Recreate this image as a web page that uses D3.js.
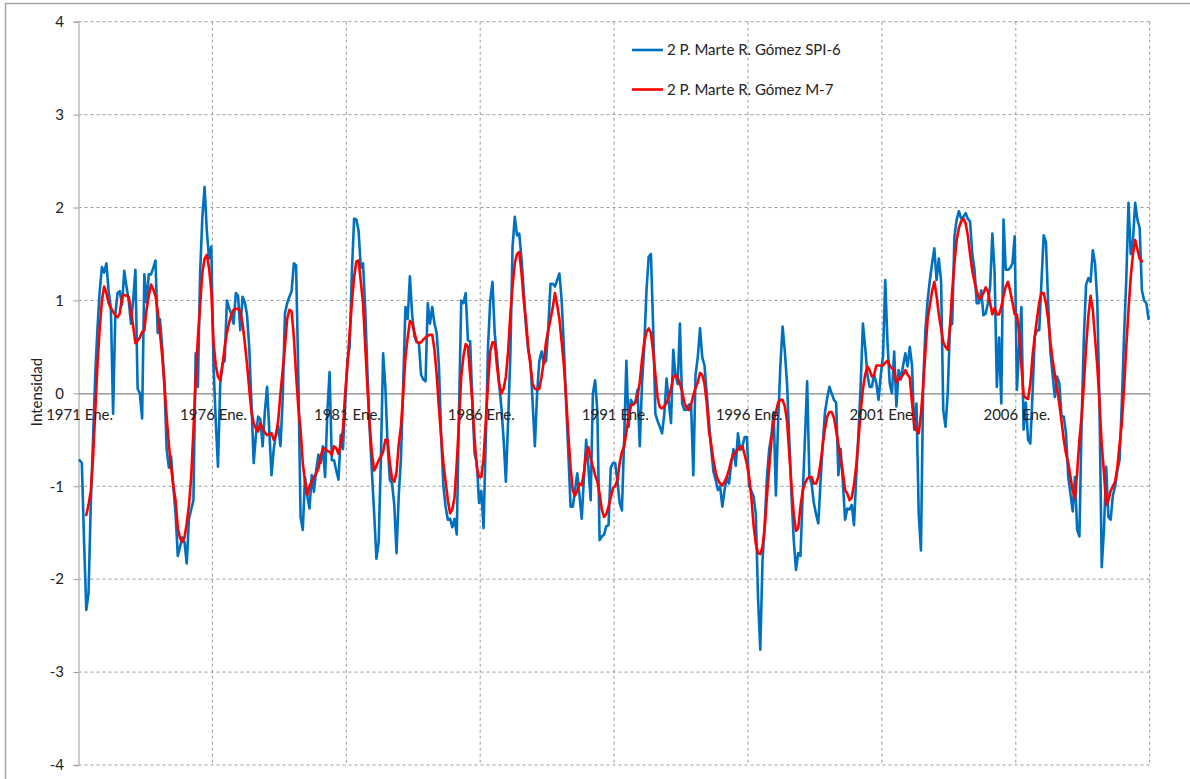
<!DOCTYPE html>
<html>
<head>
<meta charset="utf-8">
<script src="https://cdn.jsdelivr.net/npm/d3@7"></script>
<style>
  html, body { margin: 0; padding: 0; background: #ffffff; }
  svg { display: block; font-family: Lato, "Open Sans", "DejaVu Sans", sans-serif; }
</style>
</head>
<body>
<svg id="chart" width="1190" height="779"></svg>
<script>
// Monthly SPI-6 index, station 2 P. Marte R. Gómez, January of each 5-year period onward
const spi6_1971 = [-0.72,-0.75,-1.6,-2.33,-2.15,-1.2,-0.5,0.2,0.7,1.1, 1.36,1.30,1.40,1.10,0.92,-0.22,0.85,1.08,1.10,0.95, 1.32,1.15,1.0,0.75,1.0,1.33,0.05,0.0,-0.27,1.28, 0.98,1.28,1.28,1.35,1.43,0.65,0.8,0.5,0.1,-0.6, -0.8,-0.68,-1.0,-1.3,-1.75,-1.65,-1.55,-1.6,-1.83,-1.35, -1.25,-1.15,0.43,0.07,1.3,1.9,2.22,1.75,1.45,1.58];
const spi6_1976 = [0.3,-0.3,-0.79,0.1,0.32,0.35,1.0,0.92,0.85,0.75, 1.08,1.05,0.68,1.04,0.98,0.85,0.5,-0.1,-0.75,-0.45, -0.25,-0.28,-0.57,-0.2,0.07,-0.4,-0.88,-0.6,-0.43,-0.35, -0.57,-0.05,0.86,0.97,1.04,1.1,1.4,1.38,0.2,-1.33, -1.47,-0.9,-1.1,-1.24,-0.88,-1.06,-0.83,-0.66,-0.75,-0.57, -0.9,-0.2,0.23,-0.72,-0.72,-0.83,-0.93,-0.45,-0.6,-0.1];
const spi6_1981 = [0.35,0.5,1.3,1.88,1.87,1.75,1.35,1.4,0.9,0.2, -0.4,-0.85,-1.3,-1.78,-1.6,-0.7,0.43,0.07,-0.55,-0.93, -0.97,-1.2,-1.72,-1.1,-0.7,0.1,0.93,0.8,1.26,0.85, 0.62,0.55,0.55,0.2,0.15,0.13,0.97,0.75,0.93,0.75, 0.65,0.3,-0.45,-1.0,-1.22,-1.36,-1.35,-1.44,-1.35,-1.52, -0.2,1.0,0.97,1.08,0.57,0.56,-0.1,-0.65,-0.75,-1.18];
const spi6_1986 = [-1.05,-1.45,-0.5,0.5,1.0,1.2,0.65,0.4,0.1,-0.15, -0.5,-0.95,-0.3,0.4,1.58,1.9,1.7,1.72,1.45,1.1, 0.72,0.47,0.35,-0.1,-0.57,0.0,0.35,0.45,0.32,0.35, 0.7,1.18,1.18,1.15,1.22,1.29,1.0,0.5,-0.1,-0.65, -1.22,-1.22,-1.04,-0.86,-1.1,-1.35,-0.9,-0.5,-0.8,-1.15, 0.0,0.14,-0.2,-1.58,-1.54,-1.52,-1.43,-1.42,-0.8,-0.75];
const spi6_1991 = [-0.75,-0.95,-1.18,-1.26,-0.5,0.35,-0.36,-0.07,-0.11,-0.1, 0.04,-0.57,0.1,0.5,1.1,1.47,1.5,0.72,-0.22,-0.3, -0.36,-0.43,-0.22,0.16,-0.1,-0.32,0.47,0.2,0.1,0.75, -0.11,-0.18,-0.18,-0.12,-0.12,-0.88,0.2,0.39,0.7,0.39, 0.3,0.0,-0.3,-0.6,-0.84,-0.93,-1.04,-1.0,-1.22,-1.04, -0.9,-0.97,-0.75,-0.6,-0.78,-0.43,-0.61,-0.57,-0.47,-0.47];
const spi6_1996 = [-1.0,-1.05,-1.11,-1.3,-2.2,-2.76,-1.8,-1.4,-0.9,-0.6, -0.45,-0.2,-1.1,-0.3,0.3,0.72,0.45,0.1,-0.5,-1.1, -1.58,-1.9,-1.72,-1.75,-1.1,-0.5,0.13,-0.9,-0.97,-1.18, -1.3,-1.4,-0.95,-0.55,-0.2,-0.05,0.07,0.0,-0.07,-0.1, -0.88,-0.6,-0.95,-1.36,-1.24,-1.25,-1.2,-1.42,-0.9,-0.43, 0.1,0.75,0.5,0.2,0.07,0.07,0.2,0.11,-0.07,0.2];
const spi6_2001 = [0.4,1.22,0.55,0.11,0.0,0.45,-0.14,0.25,0.15,0.3, 0.43,0.29,0.5,0.3,-0.39,-0.11,-1.3,-1.69,0.11,0.68, 1.0,1.22,1.4,1.56,1.22,1.45,1.22,-0.18,-0.36,0.0, 0.72,0.75,1.69,1.87,1.96,1.88,1.9,1.94,1.88,1.85, 1.5,1.33,0.97,0.97,1.11,0.84,0.86,0.97,1.15,1.72, 1.3,0.07,0.6,-0.11,1.87,1.33,1.33,1.35,1.4,1.69];
const spi6_2006 = [0.04,0.5,0.93,-0.39,-0.1,-0.5,-0.54,0.0,0.61,0.68, 0.68,1.2,1.7,1.63,0.97,0.45,0.2,-0.04,0.18,0.11, -0.25,-0.25,-0.43,-0.9,-1.08,-1.27,-0.9,-1.47,-1.54,-0.3, 0.6,1.17,1.24,1.2,1.54,1.4,1.0,-0.11,-1.87,-1.47, -0.79,-1.33,-1.36,-1.1,-1.0,-0.83,-0.72,-0.11,0.61,1.22, 2.05,1.5,1.65,2.05,1.87,1.78,1.11,1.0,0.97,0.8];

// 7-month centred moving average (M-7); undefined for the first and last three months
const m7_1971 = [null,null,null,-1.31,-1.2,-1.05,-0.7,-0.2,0.3,0.7, 1.0,1.15,1.08,0.97,0.92,0.88,0.84,0.82,0.86,1.04, 1.06,1.05,1.04,0.9,0.72,0.54,0.57,0.6,0.66,0.68, 0.9,1.05,1.17,1.12,1.05,0.88,0.65,0.4,0.1,-0.25, -0.55,-0.8,-1.0,-1.15,-1.45,-1.56,-1.6,-1.55,-1.4,-1.2, -0.9,-0.4,0.15,0.6,0.95,1.3,1.45,1.49,1.35,1.1];
const m7_1976 = [0.55,0.3,0.18,0.14,0.3,0.5,0.65,0.76,0.85,0.9, 0.91,0.91,0.88,0.75,0.55,0.32,0.05,-0.2,-0.32,-0.38, -0.41,-0.32,-0.38,-0.42,-0.45,-0.44,-0.43,-0.5,-0.45,-0.29, 0.0,0.25,0.5,0.8,0.9,0.88,0.61,0.2,-0.15,-0.39, -0.75,-0.95,-1.09,-1.0,-0.95,-0.9,-0.86,-0.81,-0.68,-0.6, -0.59,-0.62,-0.63,-0.66,-0.57,-0.59,-0.65,-0.55,-0.39,0.0];
const m7_1981 = [0.3,0.65,0.97,1.25,1.42,1.43,1.2,0.97,0.5,0.05, -0.35,-0.65,-0.83,-0.78,-0.72,-0.68,-0.63,-0.5,-0.5,-0.75, -0.92,-0.95,-0.85,-0.55,-0.35,0.0,0.39,0.6,0.78,0.75, 0.66,0.56,0.54,0.55,0.58,0.6,0.62,0.63,0.63,0.47, 0.2,-0.15,-0.47,-0.75,-0.95,-1.15,-1.29,-1.25,-1.12,-0.75, -0.3,0.18,0.4,0.53,0.5,0.2,-0.1,-0.5,-0.8,-0.9];
const m7_1986 = [-0.9,-0.7,-0.3,0.1,0.45,0.55,0.55,0.3,0.1,0.0, 0.05,0.18,0.45,0.85,1.15,1.4,1.5,1.52,1.3,1.0, 0.79,0.5,0.3,0.1,0.05,0.04,0.05,0.18,0.35,0.55, 0.68,0.8,0.92,1.08,0.95,0.8,0.55,0.3,-0.05,-0.45, -0.8,-1.05,-1.1,-1.05,-0.97,-0.99,-0.85,-0.65,-0.58,-0.7, -0.79,-0.88,-0.95,-1.08,-1.25,-1.33,-1.3,-1.22,-1.12,-1.02];
const m7_1991 = [-1.0,-0.93,-0.75,-0.63,-0.57,-0.42,-0.25,-0.13,-0.12,-0.1, -0.03,0.12,0.36,0.55,0.66,0.7,0.65,0.45,0.2,-0.05, -0.15,-0.16,-0.14,-0.1,-0.04,0.05,0.17,0.2,0.17,0.1, 0.02,-0.1,-0.16,-0.18,-0.12,-0.02,0.06,0.12,0.22,0.2, 0.1,-0.1,-0.4,-0.55,-0.72,-0.85,-0.93,-0.97,-0.99,-0.95, -0.9,-0.82,-0.72,-0.66,-0.63,-0.6,-0.58,-0.57,-0.66,-0.76];
const m7_1996 = [-0.9,-1.12,-1.42,-1.62,-1.72,-1.73,-1.65,-1.45,-1.1,-0.8, -0.5,-0.3,-0.2,-0.1,-0.07,-0.07,-0.14,-0.3,-0.65,-1.0, -1.3,-1.48,-1.45,-1.22,-1.05,-0.97,-0.92,-0.9,-0.9,-0.97, -0.97,-0.9,-0.75,-0.55,-0.38,-0.25,-0.2,-0.2,-0.26,-0.4, -0.55,-0.7,-0.85,-1.04,-1.08,-1.15,-1.12,-0.98,-0.78,-0.5, -0.2,0.05,0.2,0.29,0.25,0.18,0.2,0.3,0.3,0.3];
const m7_2001 = [0.3,0.33,0.35,0.3,0.27,0.25,0.12,0.15,0.17,0.2, 0.25,0.2,0.17,-0.1,-0.35,-0.4,-0.43,-0.22,0.08,0.45, 0.8,0.95,1.1,1.2,1.05,0.85,0.7,0.55,0.5,0.47, 0.72,1.1,1.4,1.65,1.78,1.85,1.88,1.83,1.7,1.5, 1.32,1.2,1.1,1.02,1.03,1.08,1.14,1.1,0.97,0.85, 0.92,0.85,0.85,0.93,1.05,1.15,1.2,1.1,0.98,0.85];
const m7_2006 = [0.85,0.65,0.3,-0.02,-0.05,-0.06,0.1,0.4,0.62,0.8, 0.98,1.08,1.08,0.97,0.8,0.55,0.36,0.2,0.05,-0.11, -0.3,-0.5,-0.65,-0.75,-0.9,-1.05,-1.13,-0.85,-0.5,-0.25, 0.1,0.5,0.83,1.05,0.9,0.6,0.3,-0.1,-0.55,-0.85, -1.2,-1.15,-1.05,-1.0,-0.95,-0.8,-0.55,-0.32,0.05,0.5, 0.9,1.25,1.5,1.65,1.55,1.45,1.42,null,null,null];

// Axis text
const xTickLabels = ["1971 Ene.", "1976 Ene.", "1981 Ene.", "1986 Ene.", "1991 Ene.", "1996 Ene.", "2001 Ene.", "2006 Ene."];
const yTicks = [-4, -3, -2, -1, 0, 1, 2, 3, 4];
const seriesNames = ["2 P. Marte R. Gómez SPI-6", "2 P. Marte R. Gómez M-7"];
const seriesColors = ["#0070C0", "#FF0000"];
const yTitle = "Intensidad";

const spi6 = [].concat(spi6_1971, spi6_1976, spi6_1981, spi6_1986, spi6_1991, spi6_1996, spi6_2001, spi6_2006);
const m7 = [].concat(m7_1971, m7_1976, m7_1981, m7_1986, m7_1991, m7_1996, m7_2001, m7_2006);
const months = d3.range(spi6.length);
const monthsPerLabel = 60;
const tickMonths = xTickLabels.map((_, k) => k * monthsPerLabel);

const svg = d3.select("#chart");
const plot = { left: 78.5, right: 1149.7, top: 21.7, bottom: 765 };

const x = d3.scaleBand().domain(months).range([plot.left, plot.right]).padding(0);
const y = d3.scaleLinear().domain([-4, 4]).range([plot.bottom, plot.top]);
const cx = i => x(i) + x.bandwidth() / 2;

svg.append("rect").attr("x", 0).attr("y", 0).attr("width", 1190).attr("height", 779).attr("fill", "#ffffff");
// chart frame
svg.append("rect")
  .attr("x", 5.5).attr("y", 3.5).attr("width", 1400).attr("height", 1000)
  .attr("fill", "none").attr("stroke", "#a6a6a6").attr("stroke-width", 1.5);

// horizontal gridlines
svg.append("g").selectAll("line")
  .data(yTicks.filter(v => v !== 0))
  .join("line")
  .attr("x1", plot.left).attr("x2", plot.right)
  .attr("y1", d => y(d)).attr("y2", d => y(d))
  .attr("stroke", "#9a9a9a").attr("stroke-width", 1).attr("stroke-dasharray", "3,3");

// vertical gridlines at each period boundary and at the right edge
const vGrid = tickMonths.slice(1).map(i => x(i)).concat([plot.right]);
svg.append("g").selectAll("line")
  .data(vGrid)
  .join("line")
  .attr("x1", d => d).attr("x2", d => d)
  .attr("y1", plot.top).attr("y2", plot.bottom)
  .attr("stroke", "#9a9a9a").attr("stroke-width", 1).attr("stroke-dasharray", "3,3");

// y axis
const yAxis = d3.axisLeft(y).tickValues(yTicks).tickSize(5).tickPadding(9.5).tickFormat(d3.format("d"));
const gy = svg.append("g").attr("transform", `translate(${plot.left},0)`).call(yAxis);
gy.select(".domain").attr("stroke", "#bdbdbd").attr("stroke-width", 1.5);
gy.selectAll(".tick line").attr("stroke", "#9a9a9a");
gy.selectAll(".tick text").attr("font-size", 15).attr("fill", "#222").style("font-family", "Lato, 'Open Sans', sans-serif")
  .text(d => d < 0 ? "-" + Math.abs(d) : d);

// x axis line crossing at zero
const xAxis = d3.axisBottom(x).tickValues(tickMonths).tickSize(0).tickPadding(16)
  .tickFormat((d, k) => xTickLabels[k]);
const gx = svg.append("g").attr("transform", `translate(0,${y(0)})`).call(xAxis);
gx.select(".domain").attr("stroke", "#868686").attr("stroke-width", 1.2);
gx.selectAll(".tick text").remove();

// axis title
svg.append("text")
  .attr("transform", "translate(42,392) rotate(-90)")
  .attr("text-anchor", "middle")
  .attr("font-size", 15).attr("fill", "#222")
  .text(yTitle);

// series lines
const line = d3.line()
  .defined(d => d.v !== null)
  .x(d => cx(d.i))
  .y(d => y(d.v));

[spi6, m7].forEach((vals, s) => {
  svg.append("path")
    .datum(vals.map((v, i) => ({ i, v })))
    .attr("fill", "none")
    .attr("stroke", seriesColors[s])
    .attr("stroke-width", 2.6)
    .attr("stroke-linejoin", "round")
    .attr("stroke-linecap", "round")
    .attr("d", line);
});

// category labels drawn above the series
const gxLabels = svg.append("g").attr("transform", `translate(0,${y(0)})`)
  .call(d3.axisBottom(x).tickValues(tickMonths).tickSize(0).tickPadding(16).tickFormat((d, k) => xTickLabels[k]));
gxLabels.select(".domain").remove();
gxLabels.selectAll(".tick text").attr("font-size", 15).attr("fill", "#222").style("font-family", "Lato, 'Open Sans', sans-serif");

// legend
const legend = svg.append("g").attr("transform", "translate(632,0)");
const legendRows = [50, 89.5];
seriesNames.forEach((name, s) => {
  legend.append("line")
    .attr("x1", 0).attr("x2", 31)
    .attr("y1", legendRows[s]).attr("y2", legendRows[s])
    .attr("stroke", seriesColors[s]).attr("stroke-width", 2.6);
  legend.append("text")
    .attr("x", 35).attr("y", legendRows[s] + 5)
    .attr("font-size", 15).attr("fill", "#222")
    .text(name);
});
</script>
</body>
</html>
